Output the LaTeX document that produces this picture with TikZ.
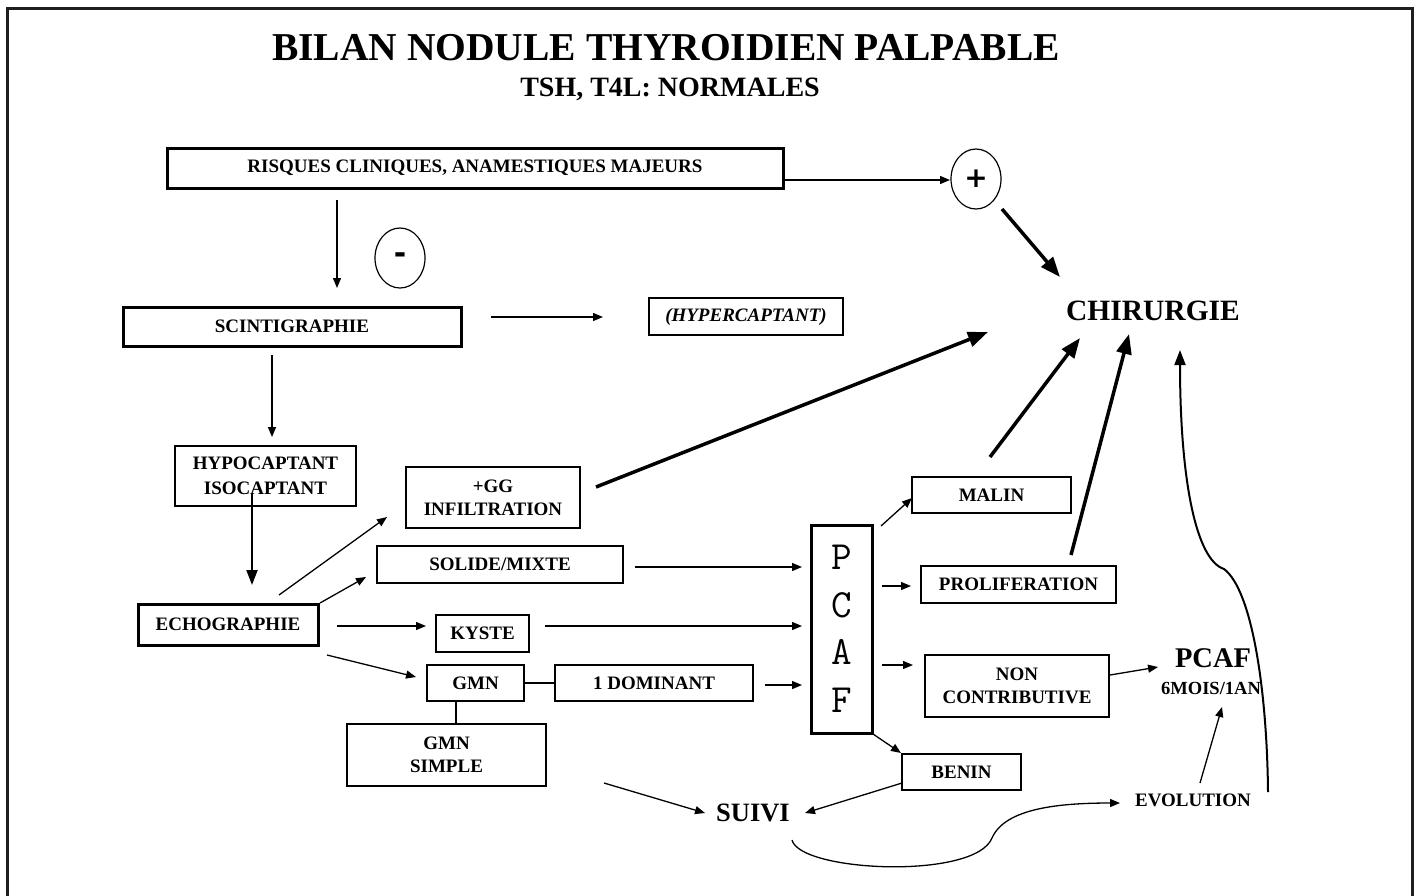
\documentclass[tikz,border=0pt]{standalone}
\usepackage{fontspec}
\setmainfont{Liberation Serif}
\newfontfamily\symf{DejaVu Sans}
\usetikzlibrary{arrows.meta,shapes.geometric}
\newcommand\labf{\fontsize{19}{23}\selectfont\bfseries}
\tikzset{
  box/.style={draw, line width=1.4pt, inner sep=0pt, font=\labf, align=center},
  tbox/.style={box, line width=3pt},
  arr/.style={line width=1.3pt, -{Triangle[length=10pt,width=8pt]}},
  tarr/.style={line width=3.5pt, -{Triangle[length=20pt,width=15pt]}},
  marr/.style={line width=2pt, -{Triangle[length=15pt,width=11pt]}},
  ln/.style={line width=1.3pt},
  oval/.style={draw, ellipse, line width=1.2pt, inner sep=0pt, minimum width=50pt, minimum height=60pt},
  txt/.style={inner sep=0pt, font=\labf, align=center}
}
\begin{document}
\begin{tikzpicture}[x=1pt,y=-1pt]
\useasboundingbox (0,0) rectangle (1418,895);
\draw[line width=3pt, color=black!88] (7,897) -- (7,8) -- (1412,8) -- (1412,897);

% titles
\node[inner sep=0pt, font=\fontsize{39.5}{44}\selectfont\bfseries] (t1) at (666,48) {BILAN NODULE THYROIDIEN PALPABLE};
\node[inner sep=0pt, font=\fontsize{28}{32}\selectfont\bfseries] (t2) at (670,89) {TSH, T4L: NORMALES};

% nodes
\node[tbox, minimum width=616pt, minimum height=40pt] (risk) at (475,168) {RISQUES CLINIQUES, ANAMESTIQUES MAJEURS};
\node[oval, font=\symf\fontsize{28}{28}\selectfont\bfseries] (plus) at (976,179) {+};
\node[oval, font=\symf\fontsize{30}{30}\selectfont\bfseries] (minus) at (400,258) {-};
\node[tbox, minimum width=338pt, minimum height=39pt] (scinti) at (292,326.5) {SCINTIGRAPHIE};
\node[box, minimum width=194pt, minimum height=37pt, font=\labf\itshape] (hyper) at (746,316.5) {(HYPERCAPTANT)};
\node[inner sep=0pt, font=\fontsize{29.5}{32}\selectfont\bfseries] (chir) at (1153,311) {CHIRURGIE};
\node[box, minimum width=181pt, minimum height=60pt, font=\fontsize{19}{25}\selectfont\bfseries] (hypo) at (265.5,476) {HYPOCAPTANT\\ISOCAPTANT};
\node[tbox, minimum width=180pt, minimum height=41pt] (echo) at (228,624.5) {ECHOGRAPHIE};
\node[box, minimum width=174pt, minimum height=61pt] (gg) at (493,497.5) {+GG\\INFILTRATION};
\node[box, minimum width=246pt, minimum height=37pt] (solide) at (500,564.5) {SOLIDE/MIXTE};
\node[box, minimum width=93pt, minimum height=37pt] (kyste) at (482.5,633.5) {KYSTE};
\node[box, minimum width=97pt, minimum height=36pt] (gmn) at (475.5,683) {GMN};
\node[box, minimum width=198pt, minimum height=36pt] (dom) at (654,683) {1 DOMINANT};
\node[box, minimum width=199pt, minimum height=62pt] (gmns) at (446.5,755) {GMN\\SIMPLE};
\node[tbox, minimum width=61pt, minimum height=208pt, font=\ttfamily\fontsize{40}{47.5}\selectfont] (pcaf) at (841.5,629) {P\\C\\A\\F};
\node[box, minimum width=159pt, minimum height=36pt] (malin) at (991.5,495) {MALIN};
\node[box, minimum width=195pt, minimum height=37pt] (prolif) at (1018.5,584.5) {PROLIFERATION};
\node[box, minimum width=184pt, minimum height=62pt] (nonc) at (1017,686) {NON\\CONTRIBUTIVE};
\node[box, minimum width=119pt, minimum height=36pt] (benin) at (961.5,772) {BENIN};
\node[inner sep=0pt, font=\fontsize{26.5}{30}\selectfont\bfseries] (suivi) at (753,813) {SUIVI};
\node[inner sep=0pt, font=\fontsize{28.5}{30}\selectfont\bfseries] (pcaf2) at (1213,658) {PCAF};
\node[inner sep=0pt, font=\fontsize{18.5}{22}\selectfont\bfseries] (months) at (1211,688) {6MOIS/1AN};
\node[txt] (evol) at (1193,800) {EVOLUTION};

% connectors
\draw[arr] ([shift={(308,12)}]risk.center) -- ([shift={(-26,1)}]plus.center);
\draw[tarr] ([shift={(26,30)}]plus.center) -- ([shift={(-93,-34)}]chir.center);
\draw[arr] ([shift={(-138,32)}]risk.center) -- ([shift={(45,-38.5)}]scinti.center);
\draw[arr] ([shift={(199,-9.5)}]scinti.center) -- ([shift={(-143,0.5)}]hyper.center);
\draw[arr] ([shift={(-20,28.5)}]scinti.center) -- ([shift={(6.5,-39)}]hypo.center);
\draw[marr] ([shift={(-13.5,17)}]hypo.center) -- ([shift={(24,-39.5)}]echo.center);
\draw[arr] ([shift={(51,-29.5)}]echo.center) -- ([shift={(-106,19.5)}]gg.center);
\draw[tarr] ([shift={(103,-10.5)}]gg.center) -- ([shift={(-165,21)}]chir.center);
\draw[arr] ([shift={(92,-21.5)}]echo.center) -- ([shift={(-134,12.5)}]solide.center);
\draw[arr] ([shift={(135,2.5)}]solide.center) -- ([shift={(-39.5,-62)}]pcaf.center);
\draw[arr] ([shift={(109,1.5)}]echo.center) -- ([shift={(-56.5,-7.5)}]kyste.center);
\draw[arr] ([shift={(62.5,-7.5)}]kyste.center) -- ([shift={(-39.5,-3)}]pcaf.center);
\draw[arr] ([shift={(99,30.5)}]echo.center) -- ([shift={(-59.5,-6)}]gmn.center);
\draw[ln] (gmn.east) -- (dom.west);
\draw[arr] ([shift={(111,2)}]dom.center) -- ([shift={(-39.5,56)}]pcaf.center);
\draw[ln] ([shift={(-19.5,0)}]gmn.south) -- ([shift={(9.5,0)}]gmns.north);
\draw[arr] ([shift={(157.5,28)}]gmns.center) -- ([shift={(-48,0)}]suivi.center);
\draw[arr] ([shift={(39.5,-103)}]pcaf.center) -- ([shift={(-79.5,3)}]malin.center);
\draw[tarr] ([shift={(-1.5,-38)}]malin.center) -- ([shift={(-73,27)}]chir.center);
\draw[arr] ([shift={(40.5,1.5)}]pcaf.center |- prolif.center) -- ([shift={(-107.5,1.5)}]prolif.center);
\draw[tarr] ([shift={(52.5,-29.5)}]prolif.center) -- ([shift={(-24,23)}]chir.center);
\draw[arr] ([shift={(40.5,36)}]pcaf.center) -- ([shift={(-104,-21)}]nonc.center);
\draw[arr] ([shift={(93,-11)}]nonc.center) -- ([shift={(-55,9)}]pcaf2.center);
\draw[arr] ([shift={(31.5,105)}]pcaf.center) -- ([shift={(-60.5,-19)}]benin.center);
\draw[arr] ([shift={(-59.5,11)}]benin.center) -- ([shift={(52,0)}]suivi.center);
\draw[arr] ([shift={(39,27)}]suivi.center) .. controls (800,872) and (975,880) .. (992,838)
   .. controls (1005,808) and (1060,803) .. ([shift={(-73,3)}]evol.center);
\draw[arr] ([shift={(7,-17)}]evol.center) -- ([shift={(9,49)}]pcaf2.center);
\draw[marr] ([shift={(75,-8)}]evol.center) .. controls (1267,690) and (1252,590) .. (1224,569)
   .. controls (1196,560) and (1180,480) .. ([shift={(27,39)}]chir.center);
\end{tikzpicture}
\end{document}
